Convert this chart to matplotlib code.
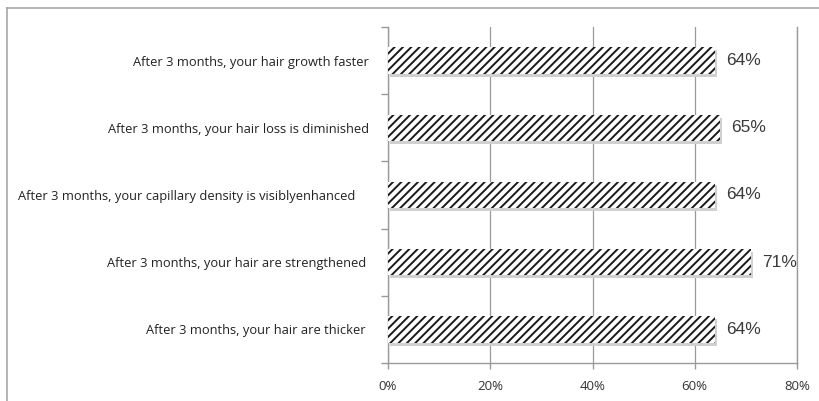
import matplotlib
matplotlib.use("Agg")
import matplotlib.pyplot as plt
from matplotlib.transforms import ScaledTranslation
from matplotlib.lines import Line2D

categories = [
    "After 3 months, your hair growth faster",
    "After 3 months, your hair loss is diminished",
    "After 3 months, your capillary density is visiblyenhanced    ",
    "After 3 months, your hair are strengthened ",
    "After 3 months, your hair are thicker ",
]
values = [64, 65, 64, 71, 64]
xticks = [0, 20, 40, 60, 80]
xticklabels = ["0%", "20%", "40%", "60%", "80%"]

plt.rcParams['hatch.linewidth'] = 1.4

fig = plt.figure(figsize=(8.19, 4.01), dpi=100)
fig.patch.set_facecolor("white")
ax = fig.add_axes([388/819, 1-363/401, (797-388)/819, (363-27)/401])

# outer chart border (left and top edges visible)
fig.add_artist(Line2D([7/819, 7/819], [0, 1-8/401], transform=fig.transFigure, color="#a0a0a0", lw=1.1))
fig.add_artist(Line2D([7/819, 1.0], [1-8/401, 1-8/401], transform=fig.transFigure, color="#a0a0a0", lw=1.1))

ypos = list(range(len(categories)))
h = 0.39
shadow = ScaledTranslation(2/100, -3/100, fig.dpi_scale_trans)
ax.barh(ypos, values, height=h, color="#d0d0d0", linewidth=0,
        transform=ax.transData + shadow, zorder=2)
ax.barh(ypos, values, height=h, color="white", edgecolor="#1a1a1a",
        linewidth=0, hatch="////", zorder=3)

for y, v in zip(ypos, values):
    ax.annotate(f"{v}%", xy=(v, y), xytext=(8, 0), textcoords="offset points",
                va="center", ha="left", fontsize=12.5, color="#3a3a3a",
                family="Liberation Sans", zorder=4)

ax.set_xlim(0, 80)
ax.set_ylim(len(categories) - 0.5, -0.5)
ax.set_xticks(xticks)
ax.set_xticklabels(xticklabels, family="Open Sans", fontsize=9.5, color="#333333")
ax.set_yticks(ypos)
ax.set_yticklabels(categories, family="Open Sans", fontsize=9.3, color="#222222")
ax.set_yticks([i - 0.5 for i in range(len(categories) + 1)], minor=True)
ax.tick_params(axis="y", which="major", length=0, pad=13.5)
ax.tick_params(axis="y", which="minor", length=5, color="#999999", width=1)
ax.tick_params(axis="x", which="major", length=4, color="#999999", width=1, pad=8)
ax.xaxis.grid(True, color="#9a9a9a", linewidth=0.9)
ax.set_axisbelow(True)
ax.spines["top"].set_visible(False)
for s in ["left", "bottom", "right"]:
    ax.spines[s].set_color("#9a9a9a")
    ax.spines[s].set_linewidth(1)

fig.savefig("out.png", dpi=100, facecolor="white")
